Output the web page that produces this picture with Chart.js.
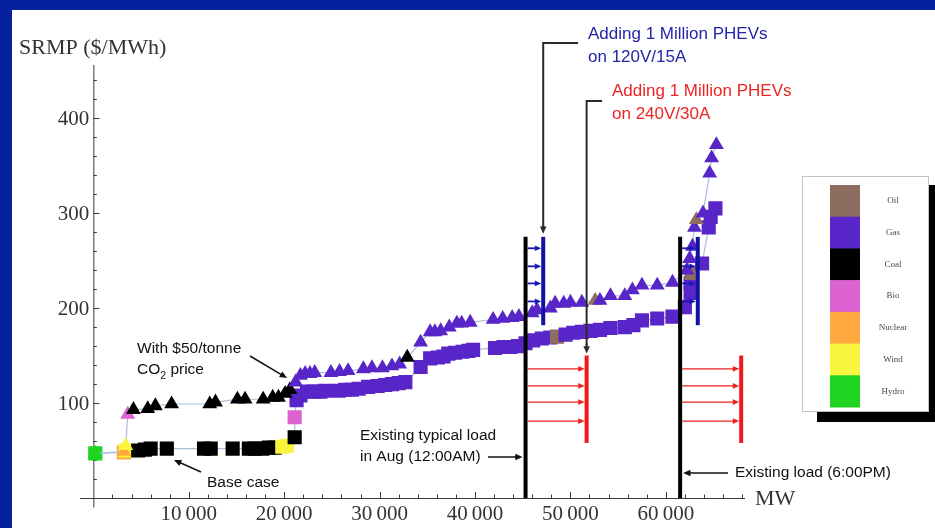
<!DOCTYPE html>
<html>
<head>
<meta charset="utf-8">
<script src="https://cdn.jsdelivr.net/npm/chart.js@4.4.1/dist/chart.umd.min.js"></script>
<style>
  html, body { margin: 0; padding: 0; background: #fff; }
  #wrap { width: 935px; height: 528px; }
</style>
</head>
<body>
<div id="wrap"><canvas id="meritChart" width="935" height="528"></canvas></div>
<script>
// fuel types, top to bottom in the key
const fuelNames = ['Oil', 'Gas', 'Coal', 'Bio', 'Nuclear', 'Wind', 'Hydro'];
const fuelColors = ['#8c6d5f', '#5826c8', '#000000', '#dc62d2', '#ffa83e', '#f9f43e', '#1fd420'];

// base case supply stack (squares)
const baseMW = [200, 3200, 3400, 4700, 5400, 6000, 7700, 11600, 12300, 14600, 16300, 16900, 17700, 18400, 19000,
  19800, 20300, 21100, 21100, 21300, 21700, 22400, 23100, 23800, 24300, 25700, 26400, 27100, 27800,
  28800, 29800, 30600, 31300, 32000, 32700, 34300, 35300, 36100, 36700, 37200, 37900, 38700, 39300, 39800,
  42100, 43000, 43700, 44500, 45300, 46100, 47000, 47900, 48600, 49500, 50300, 51200, 52100, 53100, 54200,
  55700, 56600, 57500, 59100, 60700, 62000, 62600, 62600, 62700, 63800, 64500, 64700, 65200];
const basePrice = [47, 48, 50, 50, 51, 52, 52, 52, 52, 52, 52, 52, 52, 53, 53,
  54, 55, 64, 85, 103, 108, 112, 112, 112, 113, 113, 114, 114, 115,
  117, 118, 119, 120, 121, 122, 138, 147, 148, 149, 152, 153, 154, 155, 156,
  158, 159, 159, 160, 163, 166, 168, 169, 170, 172, 174, 175, 176, 177, 179,
  180, 182, 187, 189, 191, 201, 216, 226, 237, 247, 285, 296, 305];
const baseFuel = ['Hydro', 'Nuclear', 'Wind', 'Coal', 'Coal', 'Coal', 'Coal', 'Coal', 'Coal', 'Coal', 'Coal', 'Coal', 'Coal', 'Coal', 'Coal',
  'Wind', 'Wind', 'Coal', 'Bio', 'Gas', 'Gas', 'Gas', 'Gas', 'Gas', 'Gas', 'Gas', 'Gas', 'Gas', 'Gas',
  'Gas', 'Gas', 'Gas', 'Gas', 'Gas', 'Gas', 'Gas', 'Gas', 'Gas', 'Gas', 'Gas', 'Gas', 'Gas', 'Gas', 'Gas',
  'Gas', 'Gas', 'Gas', 'Gas', 'Gas', 'Gas', 'Gas', 'Gas', 'Oil', 'Gas', 'Gas', 'Gas', 'Gas', 'Gas', 'Gas',
  'Gas', 'Gas', 'Gas', 'Gas', 'Gas', 'Gas', 'Gas', 'Gas', 'Oil', 'Gas', 'Gas', 'Gas', 'Gas'];

// with a $50/tonne CO2 price (triangles)
const co2MW = [200, 3200, 3400, 3600, 4200, 5700, 6500, 8200, 12200, 12800, 15100, 15900, 17800, 18800, 19400,
  20100, 20600, 21200, 21700, 22200, 22700, 23200, 24900, 25800, 26700, 28300, 29200, 30300, 31300, 32100,
  32900, 34300, 35300, 35800, 36400, 37300, 38100, 38600, 39500, 41900, 42900, 43900, 44600,
  46000, 46500, 47900, 48400, 49300, 50000, 51200, 52600, 53100, 54200, 55700, 56500, 57500, 59100, 60700,
  62200, 62500, 62800, 63000, 63200, 63900, 64600, 64800, 65300];
const co2Price = [47, 49, 55, 88, 93, 94, 97, 99, 99, 101, 104, 104, 104, 106, 106,
  110, 114, 122, 129, 131, 131, 132, 132, 133, 134, 136, 137, 137, 139, 141,
  148, 164, 175, 175, 176, 180, 184, 184, 185, 188, 189, 190, 191,
  195, 198, 200, 205, 205, 206, 206, 208, 208, 213, 213, 219, 224, 224, 227,
  240, 252, 265, 285, 293, 300, 342, 358, 372];
const co2Fuel = ['Hydro', 'Nuclear', 'Wind', 'Bio', 'Coal', 'Coal', 'Coal', 'Coal', 'Coal', 'Coal', 'Coal', 'Coal', 'Coal', 'Coal', 'Coal',
  'Coal', 'Coal', 'Gas', 'Gas', 'Gas', 'Gas', 'Gas', 'Gas', 'Gas', 'Gas', 'Gas', 'Gas', 'Gas', 'Gas', 'Gas',
  'Coal', 'Gas', 'Gas', 'Gas', 'Gas', 'Gas', 'Gas', 'Gas', 'Gas', 'Gas', 'Gas', 'Gas', 'Gas',
  'Gas', 'Gas', 'Gas', 'Gas', 'Gas', 'Gas', 'Gas', 'Oil', 'Gas', 'Gas', 'Gas', 'Gas', 'Gas', 'Gas', 'Gas',
  'Gas', 'Gas', 'Gas', 'Gas', 'Oil', 'Gas', 'Gas', 'Gas', 'Gas'];

const xTicks = [10000, 20000, 30000, 40000, 50000, 60000];
const yTicks = [100, 200, 300, 400];

// existing loads (MW) and the extra load from 1 million PHEVs
const loadAug = 45300;     // typical August, 12:00AM
const loadPeak = 61500;    // 6:00PM
const phev120 = 1850;      // 120V/15A charging
const phev240 = 6400;      // 240V/30A charging
const loadTop = 275;       // height of the load markers ($/MWh)

const colorOf = f => fuelColors[fuelNames.indexOf(f)];
const toPoints = (xs, ys) => xs.map((v, i) => ({ x: v, y: ys[i] }));

const SERIF = '"Liberation Serif", "Times New Roman", serif';
const SANS = '"Liberation Sans", Arial, sans-serif';

function arrow(ctx, x1, y1, x2, y2, color, width, head) {
  const a = Math.atan2(y2 - y1, x2 - x1);
  ctx.strokeStyle = color;
  ctx.fillStyle = color;
  ctx.lineWidth = width;
  ctx.beginPath();
  ctx.moveTo(x1, y1);
  ctx.lineTo(x2 - Math.cos(a) * head * 0.7, y2 - Math.sin(a) * head * 0.7);
  ctx.stroke();
  ctx.beginPath();
  ctx.moveTo(x2, y2);
  ctx.lineTo(x2 - head * Math.cos(a - 0.42), y2 - head * Math.sin(a - 0.42));
  ctx.lineTo(x2 - head * Math.cos(a + 0.42), y2 - head * Math.sin(a + 0.42));
  ctx.closePath();
  ctx.fill();
}

function vline(ctx, x, y1, y2, color, width) {
  ctx.strokeStyle = color;
  ctx.lineWidth = width;
  ctx.beginPath();
  ctx.moveTo(x, y1);
  ctx.lineTo(x, y2);
  ctx.stroke();
}

// slide frame, axes through the origin with inward ticks
const axesPlugin = {
  id: 'axes',
  beforeDraw(chart) {
    const ctx = chart.ctx;
    ctx.save();
    ctx.fillStyle = '#ffffff';
    ctx.fillRect(0, 0, chart.width, chart.height);
    ctx.fillStyle = '#0521a0';
    ctx.fillRect(0, 0, chart.width, 10);
    ctx.fillRect(0, 0, 12, chart.height);
    ctx.restore();
  },
  beforeDatasetsDraw(chart) {
    const { ctx, scales: { x, y } } = chart;
    const x0 = x.getPixelForValue(0), y0 = y.getPixelForValue(0);
    ctx.save();
    ctx.strokeStyle = '#3a3a3a';
    ctx.lineWidth = 1;
    ctx.beginPath();
    ctx.moveTo(x.left, y0 + 0.5);
    ctx.lineTo(x.right, y0 + 0.5);
    ctx.moveTo(x0 + 0.5, y.bottom);
    ctx.lineTo(x0 + 0.5, y.top);
    ctx.stroke();

    ctx.beginPath();
    for (let v = 2000; v <= x.max; v += 2000) {
      const p = Math.round(x.getPixelForValue(v)) + 0.5;
      const len = v % 10000 === 0 ? 6 : 3.5;
      ctx.moveTo(p, y0);
      ctx.lineTo(p, y0 - len);
    }
    for (let v = 20; v <= y.max; v += 20) {
      const p = Math.round(y.getPixelForValue(v)) + 0.5;
      const len = v % 100 === 0 ? 6 : 3.5;
      ctx.moveTo(x0, p);
      ctx.lineTo(x0 + len, p);
    }
    ctx.stroke();

    ctx.fillStyle = '#333333';
    ctx.font = '21px ' + SERIF;
    ctx.textBaseline = 'middle';
    ctx.textAlign = 'center';
    xTicks.forEach(v => {
      const s = String(v).replace(/(\d)(?=(\d{3})+$)/g, '$1\u2009');
      ctx.fillText(s, x.getPixelForValue(v), y0 + 16);
    });
    ctx.textAlign = 'right';
    yTicks.forEach(v => ctx.fillText(String(v), x0 - 4, y.getPixelForValue(v) + 1));

    ctx.font = '22px ' + SERIF;
    ctx.textAlign = 'left';
    ctx.textBaseline = 'alphabetic';
    ctx.fillText('SRMP ($/MWh)', 19, 54);
    ctx.fillText('MW', x.right + 10, y0 + 7);
    ctx.restore();
  }
};

// load markers, PHEV shifts, callouts and the fuel key
const notesPlugin = {
  id: 'notes',
  afterDatasetsDraw(chart) {
    const { ctx, scales: { x, y } } = chart;
    const px = v => x.getPixelForValue(v), py = v => y.getPixelForValue(v);
    const top = py(loadTop), base = py(0);
    ctx.save();
    ctx.lineCap = 'butt';

    [loadAug, loadPeak].forEach(load => {
      const xl = px(load), xb = px(load + phev120), xr = px(load + phev240);
      // 120V/15A: blue bar with arrows
      vline(ctx, xb, top, py(182), '#1212a2', 4);
      [263, 244, 226, 207].forEach(v => arrow(ctx, xl + 2, py(v), xb - 2, py(v), '#1a1ab0', 1.8, 7));
      // 240V/30A: red bar with arrows
      vline(ctx, xr, py(150), py(58), '#f01818', 4);
      [136, 118, 101, 81].forEach(v => arrow(ctx, xl + 2, py(v), xr - 2, py(v), '#ee2020', 1.2, 7));
      // existing load
      vline(ctx, xl, top, base, '#000000', 4);
    });

    // callout leaders
    const xb = px(loadAug + phev120), xr = px(loadAug + phev240);
    ctx.strokeStyle = '#2a2a2a';
    ctx.lineWidth = 2;
    ctx.beginPath();
    ctx.moveTo(578, 43); ctx.lineTo(xb, 43); ctx.lineTo(xb, top - 10);
    ctx.moveTo(602, 101); ctx.lineTo(xr, 101); ctx.lineTo(xr, py(150) - 10);
    ctx.stroke();
    arrow(ctx, xb, top - 12, xb, top - 3, '#2a2a2a', 2, 8);
    arrow(ctx, xr, py(150) - 12, xr, py(150) - 2, '#2a2a2a', 2, 8);

    ctx.textBaseline = 'alphabetic';
    ctx.textAlign = 'left';
    ctx.font = '17px ' + SANS;
    ctx.fillStyle = '#2424a8';
    ctx.fillText('Adding 1 Million PHEVs', 588, 39);
    ctx.fillText('on 120V/15A', 588, 62);
    ctx.fillStyle = '#ee2424';
    ctx.fillText('Adding 1 Million PHEVs', 612, 96);
    ctx.fillText('on 240V/30A', 612, 119);

    ctx.fillStyle = '#111111';
    ctx.font = '15.5px ' + SANS;
    ctx.fillText('With $50/tonne', 137, 353);
    ctx.fillText('CO', 137, 374);
    let w = ctx.measureText('CO').width;
    ctx.font = '10.5px ' + SANS;
    ctx.fillText('2', 137 + w, 379);
    w += ctx.measureText('2').width;
    ctx.font = '15.5px ' + SANS;
    ctx.fillText(' price', 137 + w, 374);
    arrow(ctx, 250, 356, 287, 378, '#111111', 1.5, 8);

    ctx.fillText('Base case', 207, 487);
    arrow(ctx, 201, 472, 174, 460, '#111111', 1.5, 8);

    ctx.fillText('Existing typical load', 360, 440);
    ctx.fillText('in Aug (12:00AM)', 360, 461);
    arrow(ctx, 488, 457, px(loadAug) - 3, 457, '#111111', 1.5, 8);

    ctx.fillText('Existing load (6:00PM)', 735, 477);
    arrow(ctx, 728, 473, px(loadPeak) + 3, 473, '#111111', 1.5, 8);

    // fuel key with drop shadow
    ctx.fillStyle = '#000000';
    ctx.fillRect(817, 185, 118, 237);
    ctx.fillStyle = '#ffffff';
    ctx.fillRect(802, 176, 127, 236);
    ctx.strokeStyle = '#c4c4c4';
    ctx.lineWidth = 1;
    ctx.strokeRect(802.5, 176.5, 126, 235);
    const rowH = 222 / fuelNames.length;
    ctx.font = '9px ' + SERIF;
    ctx.textAlign = 'center';
    ctx.textBaseline = 'middle';
    fuelNames.forEach((name, i) => {
      const ry = 185 + i * rowH;
      ctx.fillStyle = fuelColors[i];
      ctx.fillRect(830, ry, 30, rowH + 0.5);
      ctx.fillStyle = '#4a4a4a';
      ctx.fillText(name, 893, ry + rowH / 2);
    });
    ctx.restore();
  }
};

new Chart(document.getElementById('meritChart'), {
  type: 'scatter',
  data: {
    datasets: [
      {
        label: 'Base case',
        data: toPoints(baseMW, basePrice),
        pointStyle: 'rect',
        pointRadius: 10,
        pointBorderWidth: 0,
        pointBackgroundColor: baseFuel.map(colorOf),
        showLine: true,
        borderColor: '#a9bfdc',
        borderWidth: 1.2,
        order: 2
      },
      {
        label: 'With $50/tonne CO2 price',
        data: toPoints(co2MW, co2Price),
        pointStyle: 'triangle',
        pointRadius: 8.6,
        pointBorderWidth: 0,
        pointBackgroundColor: co2Fuel.map(colorOf),
        showLine: true,
        borderColor: '#a9bfdc',
        borderWidth: 1.2,
        order: 1
      }
    ]
  },
  options: {
    responsive: false,
    devicePixelRatio: 1,
    animation: false,
    events: [],
    layout: { padding: { left: 80, right: 190, top: 65, bottom: 20.5 } },
    scales: {
      x: { type: 'linear', min: -1400, max: 68300, display: false },
      y: { type: 'linear', min: -10, max: 456, display: false }
    },
    plugins: {
      legend: { display: false },
      tooltip: { enabled: false }
    }
  },
  plugins: [axesPlugin, notesPlugin]
});
</script>
</body>
</html>
